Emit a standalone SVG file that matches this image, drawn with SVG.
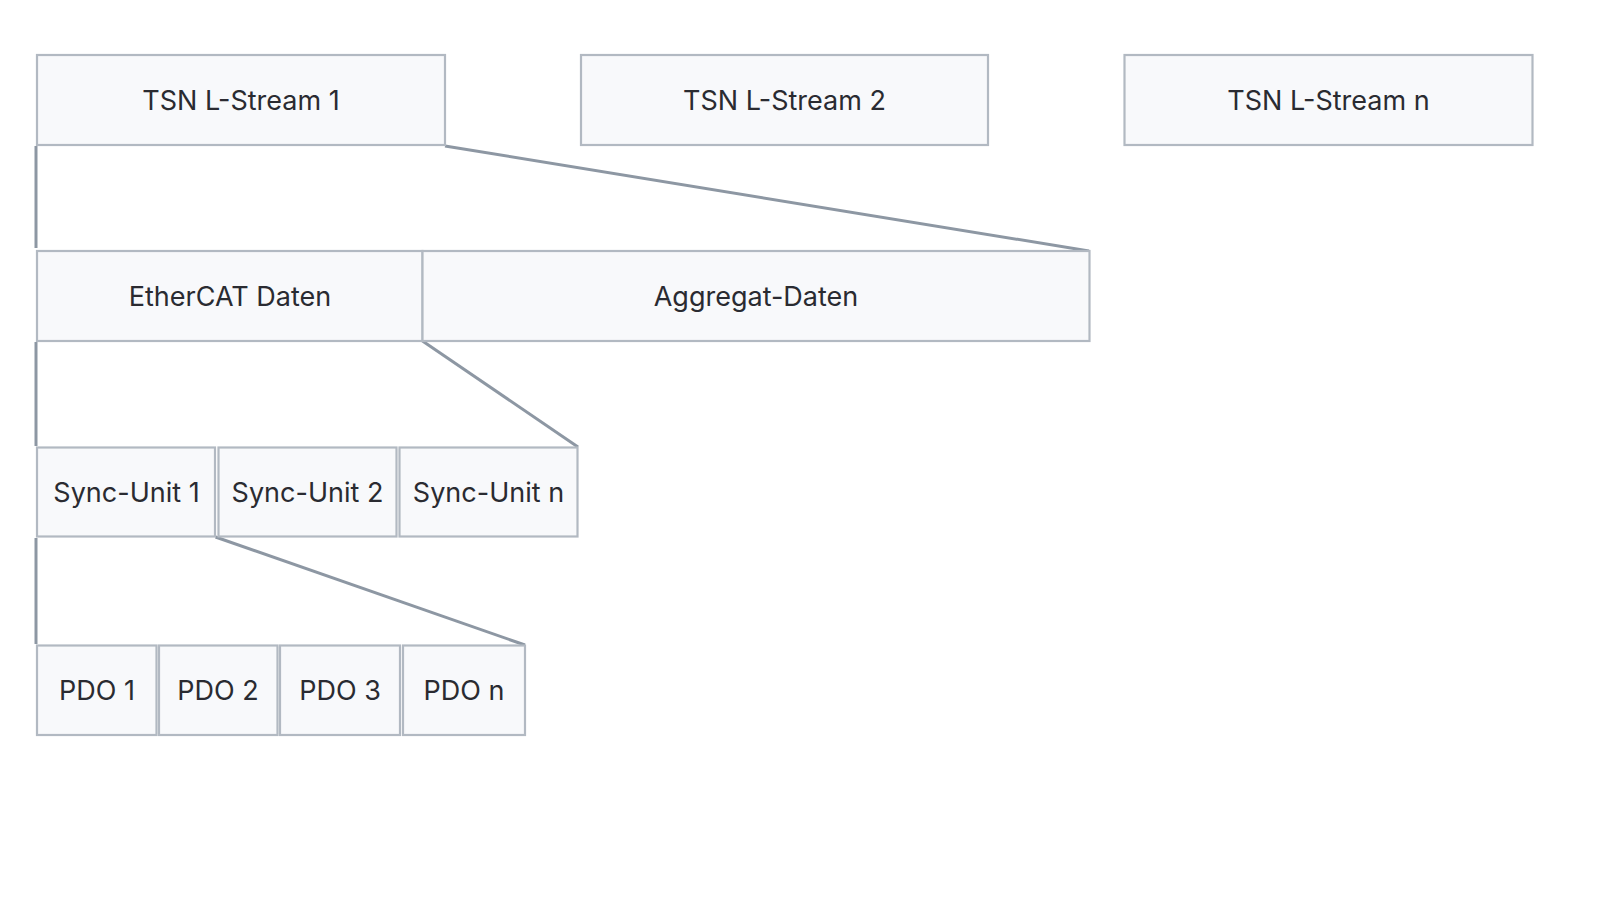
<svg xmlns="http://www.w3.org/2000/svg" width="1616" height="909" viewBox="0 0 1616 909">
<style>
.box{fill:#f8f9fb;stroke:#b2b9c2;stroke-width:2.2}
.lbl{font-family:Inter,"Noto Sans","Liberation Sans",sans-serif;font-size:27px;fill:#2a2b31;text-anchor:middle}
.con{stroke:#8d97a3;stroke-width:3;fill:none}
</style>
<rect width="1616" height="909" fill="#ffffff"/>
<g id="connectors">
<line class="con" x1="36" y1="146" x2="36" y2="248"/>
<line class="con" x1="445" y1="146" x2="1089" y2="251"/>
<line class="con" x1="36" y1="342" x2="36" y2="446"/>
<line class="con" x1="422.5" y1="341" x2="578" y2="447"/>
<line class="con" x1="36" y1="538" x2="36" y2="644"/>
<line class="con" x1="215.5" y1="537" x2="525" y2="645"/>
</g>
<g id="tsn1"><rect class="box" x="37" y="55" width="408" height="90"/><text class="lbl" x="241" y="110">TSN L-Stream 1</text></g>
<g id="tsn2"><rect class="box" x="581" y="55" width="407" height="90"/><text class="lbl" x="784.5" y="110">TSN L-Stream 2</text></g>
<g id="tsnn"><rect class="box" x="1124.5" y="55" width="408" height="90"/><text class="lbl" x="1328.5" y="110">TSN L-Stream n</text></g>
<g id="ethercat"><rect class="box" x="37" y="251" width="385.5" height="90"/><text class="lbl" x="230" y="306">EtherCAT Daten</text></g>
<g id="aggregat"><rect class="box" x="422.5" y="251" width="667" height="90"/><text class="lbl" x="756" y="306">Aggregat-Daten</text></g>
<g id="sync1"><rect class="box" x="37" y="447.5" width="178" height="89"/><text class="lbl" x="126.5" y="502">Sync-Unit 1</text></g>
<g id="sync2"><rect class="box" x="218.5" y="447.5" width="178" height="89"/><text class="lbl" x="307.5" y="502">Sync-Unit 2</text></g>
<g id="syncn"><rect class="box" x="399.5" y="447.5" width="178" height="89"/><text class="lbl" x="488.5" y="502">Sync-Unit n</text></g>
<g id="pdo1"><rect class="box" x="37" y="645.5" width="119.5" height="89.5"/><text class="lbl" x="97" y="700">PDO 1</text></g>
<g id="pdo2"><rect class="box" x="159" y="645.5" width="118.5" height="89.5"/><text class="lbl" x="218" y="700">PDO 2</text></g>
<g id="pdo3"><rect class="box" x="280" y="645.5" width="120" height="89.5"/><text class="lbl" x="340" y="700">PDO 3</text></g>
<g id="pdon"><rect class="box" x="403" y="645.5" width="122" height="89.5"/><text class="lbl" x="464" y="700">PDO n</text></g>
</svg>
